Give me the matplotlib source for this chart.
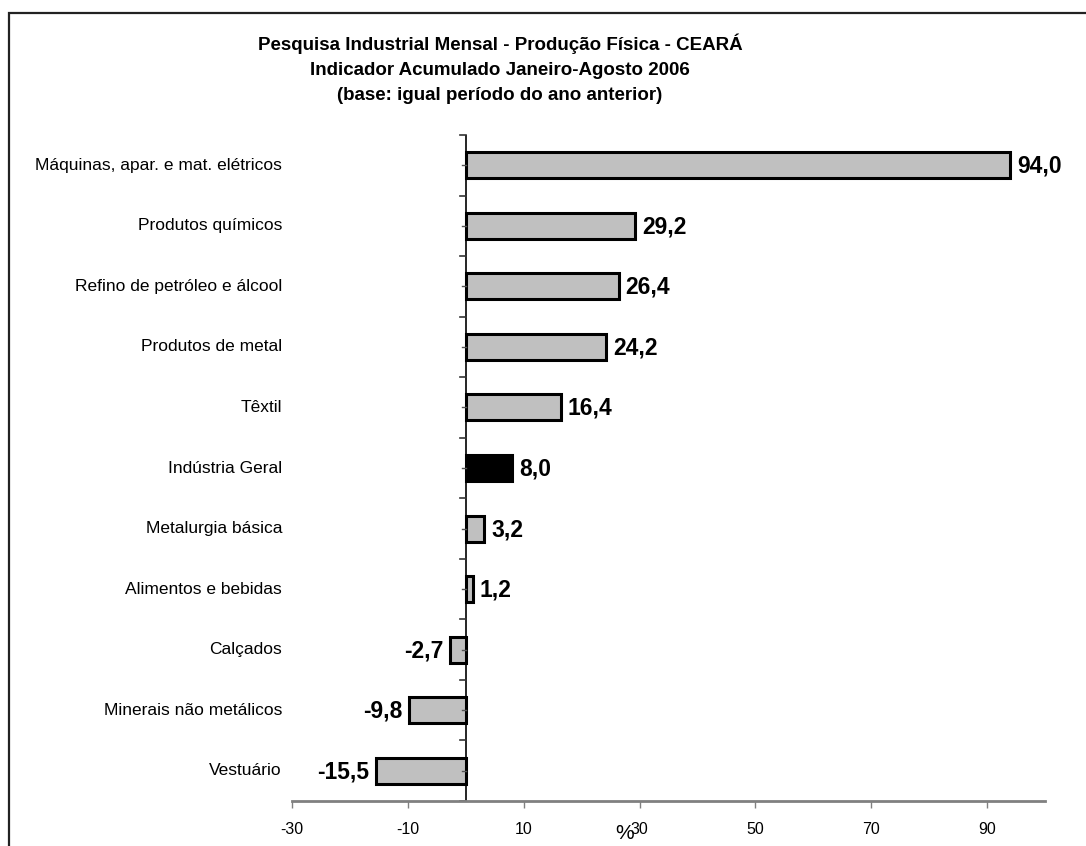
import matplotlib
matplotlib.use('Agg')
import matplotlib.pyplot as plt
from matplotlib.patches import Rectangle
import numpy as np

plt.rcParams['font.family'] = ['Liberation Sans', 'DejaVu Sans']

categories = ['Máquinas, apar. e mat. elétricos', 'Produtos químicos',
              'Refino de petróleo e álcool', 'Produtos de metal', 'Têxtil',
              'Indústria Geral', 'Metalurgia básica', 'Alimentos e bebidas',
              'Calçados', 'Minerais não metálicos', 'Vestuário']
values = [94.0, 29.2, 26.4, 24.2, 16.4, 8.0, 3.2, 1.2, -2.7, -9.8, -15.5]
highlight = 'Indústria Geral'
xticks = [-30, -10, 10, 30, 50, 70, 90]

W, H = 1086, 846
fig = plt.figure(figsize=(W / 100, H / 100), dpi=100)

# page frame
fig.add_artist(Rectangle((9 / W, 1 - 2000 / H), 2000 / W, 2000 / H - 13 / H,
                         transform=fig.transFigure, fill=False,
                         edgecolor='#222222', linewidth=1.6))

left, right, top, bottom = 292, 1045, 135, 801
ax = fig.add_axes([left / W, 1 - bottom / H, (right - left) / W, (bottom - top) / H])

n = len(categories)
ypos = np.arange(n)
colors = ['black' if c == highlight else '#C0C0C0' for c in categories]
ax.barh(ypos, values, height=0.43, color=colors, edgecolor='black', linewidth=2.2)

ax.set_xlim(-30, 100)
ax.set_ylim(n - 0.5, -0.5)
ax.set_xticks(xticks)
ax.set_xticklabels([str(t) for t in xticks], fontsize=11.5)
ax.tick_params(axis='x', direction='out', length=5, width=1, color='#808080', pad=10)

# category labels sit left of the plot area, axis line crosses at zero
ax.set_yticks([])
for y, c in zip(ypos, categories):
    ax.annotate(c, xy=(0, y), xycoords=('axes fraction', 'data'),
                xytext=(-10, 0), textcoords='offset pixels',
                ha='right', va='center', fontsize=12.5)

for s in ['top', 'right', 'left']:
    ax.spines[s].set_visible(False)
ax.spines['bottom'].set_color('#808080')
ax.spines['bottom'].set_linewidth(2)

ax.axvline(0, color='black', linewidth=1.2, zorder=1)
for yb in np.arange(-0.5, n, 1):
    ax.plot([-1.0, 0], [yb, yb], color='#333333', linewidth=1.2, clip_on=False)
for y in ypos:
    ax.plot([-0.6, 0], [y, y], color='#555555', linewidth=1, zorder=4)

for y, v in zip(ypos, values):
    txt = f'{v:.1f}'.replace('.', ',')
    if v >= 0:
        ax.annotate(txt, xy=(v, y), xytext=(7, -1), textcoords='offset pixels',
                    ha='left', va='center', fontsize=16.5, fontweight='bold')
    else:
        ax.annotate(txt, xy=(v, y), xytext=(-7, -1), textcoords='offset pixels',
                    ha='right', va='center', fontsize=16.5, fontweight='bold')

ax.set_xlabel('%', fontsize=15)
ax.xaxis.set_label_coords((625 - left) / (right - left), -0.035)

fig.text(500 / W, 1 - 34 / H,
         'Pesquisa Industrial Mensal - Produção Física - CEARÁ\n'
         'Indicador Acumulado Janeiro-Agosto 2006\n'
         '(base: igual período do ano anterior)',
         ha='center', va='top', fontsize=13.5, fontweight='bold', linespacing=1.6)

fig.savefig('out.png', dpi=100)
